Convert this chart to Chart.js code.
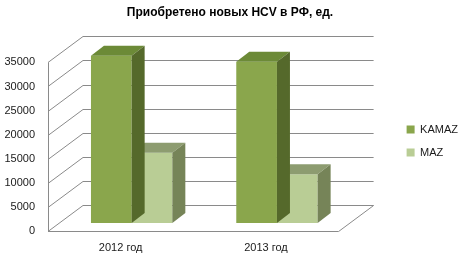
<!DOCTYPE html>
<html>
<head>
<meta charset="utf-8">
<script src="https://cdn.jsdelivr.net/npm/chart.js@4.4.1/dist/chart.umd.min.js"></script>
<style>
  html, body { margin: 0; padding: 0; background: #fff; }
  #wrap { width: 460px; height: 261px; }
</style>
</head>
<body>
<div id="wrap"><canvas id="hcvChart"></canvas></div>
<script>
// data
const categories = ['2012 год', '2013 год'];
const kamazValues = [34700, 33500];
const mazValues = [14600, 10100];
const yMax = 35000;
const yStep = 5000;

// 3d look: wall depth and bar depth (px)
const WALL_DX = 35, WALL_DY = 26;
const BAR_SHIFT_X = 11, BAR_SHIFT_Y = 8;
const BAR_DX = 13, BAR_DY = 10;
const LEGEND_GAP = 56, LEGEND_DROP = 14;

const depth3d = {
  id: 'depth3d',
  afterLayout(chart) {
    // legend sits well to the right of the walls in the original
    const lg = chart.legend;
    const w = lg.width, h = lg.height;
    lg.left = chart.chartArea.right + LEGEND_GAP;
    lg.right = lg.left + w;
    lg.top += LEGEND_DROP;
    lg.bottom = lg.top + h;
    // title centred on the whole canvas
    chart.titleBlock.left = 0;
    chart.titleBlock.right = chart.width;
  },
  beforeDatasetsDraw(chart) {
    const { ctx, chartArea: a, scales: { y } } = chart;
    ctx.save();
    ctx.strokeStyle = '#8a8a8a';
    ctx.lineWidth = 1;
    ctx.beginPath();
    ctx.moveTo(a.left + 0.5, y.getPixelForValue(yMax));
    ctx.lineTo(a.left + 0.5, a.bottom);
    y.ticks.forEach(t => {
      const py = Math.round(y.getPixelForValue(t.value)) + 0.5;
      ctx.moveTo(a.left, py);
      ctx.lineTo(a.left + WALL_DX, py - WALL_DY);
      ctx.lineTo(a.right + WALL_DX, py - WALL_DY);
    });
    const fy = Math.round(a.bottom) + 0.5;
    ctx.moveTo(a.left, fy);
    ctx.lineTo(a.right, fy);
    ctx.lineTo(a.right + WALL_DX, fy - WALL_DY);
    ctx.stroke();
    ctx.restore();

    ctx.save();
    ctx.translate(BAR_SHIFT_X, -BAR_SHIFT_Y);
  },
  afterDatasetDraw(chart, args) {
    const ctx = chart.ctx;
    const ds = chart.data.datasets[args.index];
    args.meta.data.forEach(bar => {
      const { x, y, base, width } = bar.getProps(['x', 'y', 'base', 'width'], true);
      const l = x - width / 2, r = x + width / 2;
      ctx.fillStyle = ds.topColor;
      ctx.beginPath();
      ctx.moveTo(l, y);
      ctx.lineTo(l + BAR_DX, y - BAR_DY);
      ctx.lineTo(r + BAR_DX, y - BAR_DY);
      ctx.lineTo(r, y);
      ctx.closePath();
      ctx.fill();
      ctx.fillStyle = ds.sideColor;
      ctx.beginPath();
      ctx.moveTo(r, y);
      ctx.lineTo(r + BAR_DX, y - BAR_DY);
      ctx.lineTo(r + BAR_DX, base - BAR_DY);
      ctx.lineTo(r, base);
      ctx.closePath();
      ctx.fill();
    });
  },
  afterDatasetsDraw(chart) {
    chart.ctx.restore();
  }
};

Chart.defaults.font.family = '"Liberation Sans", Arial, sans-serif';
Chart.defaults.color = '#1a1a1a';

new Chart(document.getElementById('hcvChart'), {
  type: 'bar',
  data: {
    labels: categories,
    datasets: [
      {
        label: 'KAMAZ',
        data: kamazValues,
        backgroundColor: '#8aa64c',
        topColor: '#6c8a37',
        sideColor: '#55692b',
        borderWidth: 0
      },
      {
        label: 'MAZ',
        data: mazValues,
        backgroundColor: '#b9cd95',
        topColor: '#8d9c70',
        sideColor: '#768458',
        borderWidth: 0
      }
    ]
  },
  options: {
    responsive: true,
    maintainAspectRatio: false,
    animation: false,
    clip: false,
    categoryPercentage: 0.56,
    barPercentage: 1,
    layout: { padding: { left: 0, right: 48, top: 0, bottom: 7 } },
    scales: {
      x: {
        grid: { display: false, drawTicks: false },
        border: { display: false },
        ticks: { font: { size: 11 }, padding: 10 },
        afterFit(scale) { scale.height = 23; }
      },
      y: {
        min: 0,
        max: yMax,
        grid: { display: false, drawTicks: false },
        border: { display: false },
        ticks: { stepSize: yStep, font: { size: 11 }, padding: 13, callback: v => String(v) },
        afterFit(scale) { scale.width = 48; }
      }
    },
    plugins: {
      title: {
        display: true,
        text: 'Приобретено новых HCV в РФ, ед.',
        color: '#000',
        font: { size: 12, weight: 'bold' },
        padding: { top: 5, bottom: 43 }
      },
      legend: {
        position: 'right',
        labels: { boxWidth: 8, boxHeight: 8, padding: 12, font: { size: 11 }, color: '#1a1a1a' }
      },
      tooltip: { enabled: false }
    }
  },
  plugins: [depth3d]
});
</script>
</body>
</html>
